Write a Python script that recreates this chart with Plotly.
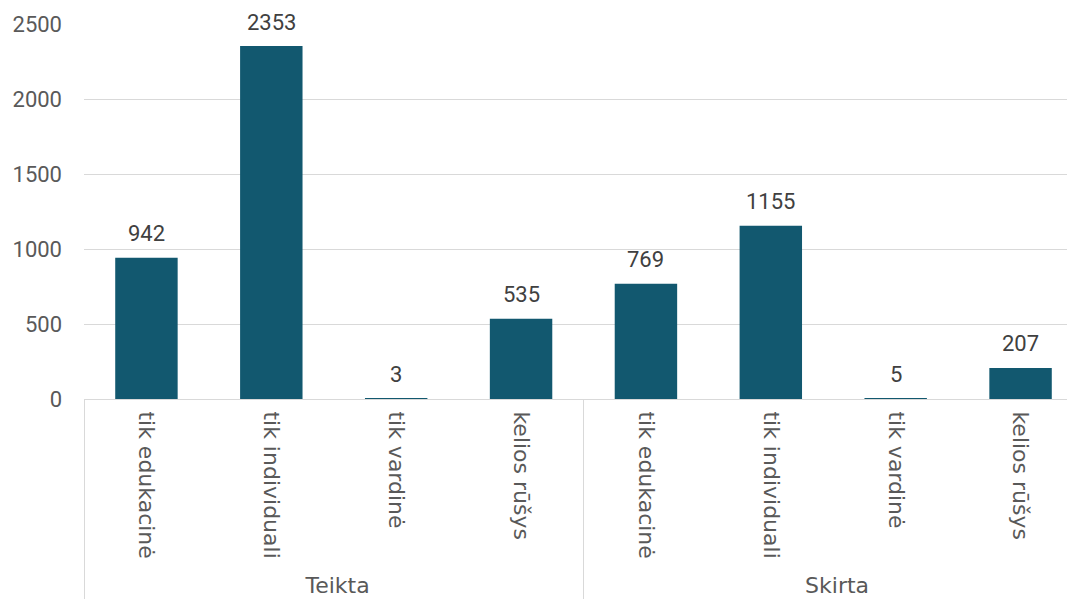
import plotly.graph_objects as go

groups = ["Teikta"] * 4 + ["Skirta"] * 4
types = ["tik edukacinė", "tik individuali", "tik vardinė", "kelios rūšys"] * 2
values = [942, 2353, 3, 535, 769, 1155, 5, 207]

num_font = "Roboto"
cat_font = "DejaVu Sans"
fig = go.Figure(go.Bar(
    x=[groups, types], y=values,
    marker=dict(color="#12586F", line=dict(width=0)),
    cliponaxis=False,
))
for i, v in enumerate(values):
    fig.add_annotation(x=i, y=v, text=str(v), showarrow=False,
                       yanchor="middle", yshift=24,
                       font=dict(family=num_font, size=22, color="#404040"))
fig.update_layout(
    width=1075, height=601,
    margin=dict(l=76, r=0, t=16, b=210),
    plot_bgcolor="white", paper_bgcolor="white",
    bargap=0.5, showlegend=False,
    font=dict(family=num_font, size=22, color="#595959"),
    yaxis=dict(range=[0, 2500], dtick=500, showgrid=True, gridcolor="#D9D9D9",
               gridwidth=1, zeroline=False, ticks="",
               tickfont=dict(family=num_font, size=22, color="#595959"),
               ticklabelstandoff=21, automargin=False),
    xaxis=dict(type="multicategory", tickangle=90, showline=True, linecolor="#D9D9D9",
               range=[-0.5, 7.5],
               showdividers=True, dividercolor="#D9D9D9", dividerwidth=1,
               tickfont=dict(family=cat_font, size=22, color="#595959"),
               ticklabelstandoff=7, automargin=False),
)
fig.write_html("out.html")
